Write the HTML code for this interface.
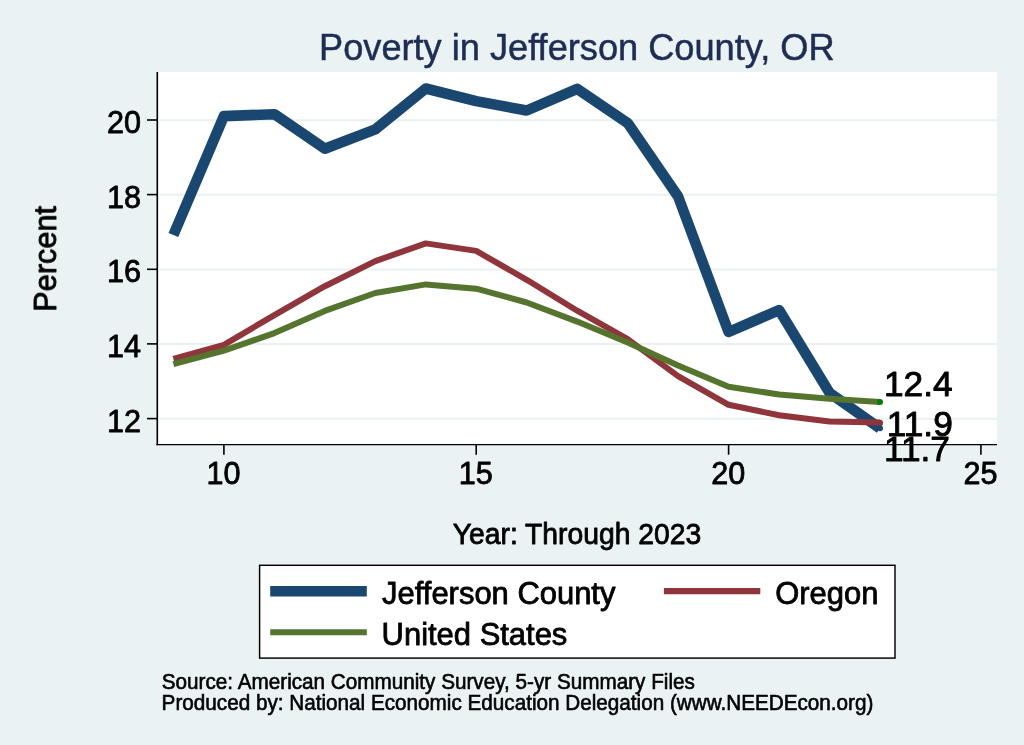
<!DOCTYPE html>
<html lang="en">
<head>
<meta charset="utf-8">
<title>Poverty in Jefferson County, OR</title>
<style>
html,body{margin:0;padding:0;background:#EAF2F3;}
body{width:1024px;height:745px;overflow:hidden;font-family:"Liberation Sans",sans-serif;}
svg{display:block;}
</style>
</head>
<body>
<svg width="1024" height="745" viewBox="0 0 1024 745" role="img" aria-label="Poverty in Jefferson County, OR" font-family="'Liberation Sans', sans-serif">
<rect x="0" y="0" width="1024" height="745" fill="#EAF2F3"/>
<rect x="158.3" y="72.0" width="838.7" height="372.4" fill="#ffffff"/>
<g stroke="#E9F1F2" stroke-width="2">
<line x1="159.5" x2="997.0" y1="120.2" y2="120.2"/>
<line x1="159.5" x2="997.0" y1="194.8" y2="194.8"/>
<line x1="159.5" x2="997.0" y1="269.5" y2="269.5"/>
<line x1="159.5" x2="997.0" y1="344.1" y2="344.1"/>
<line x1="159.5" x2="997.0" y1="418.8" y2="418.8"/>
</g>
<g fill="none" stroke-linejoin="round" stroke-linecap="butt">
<polyline points="173.4,235.0 223.9,116.1 274.4,114.2 324.8,148.7 375.3,129.4 425.8,88.5 476.2,101.1 526.7,110.5 577.2,88.8 627.7,123.1 678.1,196.5 728.6,332.0 779.1,310.1 829.5,392.8 880.0,428.3" stroke="#1A476F" stroke-width="10.6"/>
<polyline points="173.4,358.8 223.9,344.8 274.4,315.1 324.8,286.2 375.3,261.1 425.8,243.4 476.2,250.9 526.7,279.8 577.2,310.7 627.7,339.2 678.1,376.1 728.6,404.8 779.1,415.3 829.5,421.6 880.0,422.6" stroke="#90353B" stroke-width="6"/>
<polyline points="173.4,364.1 223.9,350.7 274.4,333.1 324.8,310.9 375.3,293.0 425.8,284.4 476.2,288.7 526.7,302.5 577.2,321.6 627.7,342.6 678.1,365.4 728.6,386.8 779.1,394.5 829.5,398.7 880.0,402.1" stroke="#55752F" stroke-width="6"/>
</g>
<circle cx="880.0" cy="428.3" r="3" fill="#1A476F"/>
<circle cx="880.0" cy="422.7" r="3" fill="#90353B"/>
<circle cx="880.0" cy="402.1" r="3" fill="#008000"/>
<g stroke="#000" stroke-width="1.6">
<line x1="157.3" x2="157.3" y1="72.0" y2="445.2"/>
<line x1="156.5" x2="997.0" y1="444.65" y2="444.65" stroke-width="1.35"/>
<line x1="147" x2="157.3" y1="120.0" y2="120.0"/>
<line x1="147" x2="157.3" y1="194.6" y2="194.6"/>
<line x1="147" x2="157.3" y1="269.3" y2="269.3"/>
<line x1="147" x2="157.3" y1="343.9" y2="343.9"/>
<line x1="147" x2="157.3" y1="418.6" y2="418.6"/>
<line x1="223.9" x2="223.9" y1="444.4" y2="454.7"/>
<line x1="476.2" x2="476.2" y1="444.4" y2="454.7"/>
<line x1="728.6" x2="728.6" y1="444.4" y2="454.7"/>
<line x1="980.9" x2="980.9" y1="444.4" y2="454.7"/>
</g>
<rect x="259.6" y="565.3" width="635.4" height="92.8" fill="#fff" stroke="#000" stroke-width="1.45"/>
<line x1="270.2" x2="366.8" y1="591.25" y2="591.25" stroke="#1A476F" stroke-width="10.5"/>
<line x1="270.2" x2="366.8" y1="632.2" y2="632.2" stroke="#55752F" stroke-width="6.1"/>
<line x1="663.9" x2="760.3" y1="591.1" y2="591.1" stroke="#90353B" stroke-width="6.1"/>
<g opacity="0.999" fill="#000" stroke="#000" stroke-width="0.8" stroke-linejoin="round">
<text transform="translate(141.00,133.10)" font-size="30.6" text-anchor="end">20</text>
<text transform="translate(141.00,207.74)" font-size="30.6" text-anchor="end">18</text>
<text transform="translate(141.00,282.38)" font-size="30.6" text-anchor="end">16</text>
<text transform="translate(141.00,357.02)" font-size="30.6" text-anchor="end">14</text>
<text transform="translate(141.00,431.66)" font-size="30.6" text-anchor="end">12</text>
<text transform="translate(223.50,484.30)" font-size="30.6" text-anchor="middle">10</text>
<text transform="translate(475.85,484.30)" font-size="30.6" text-anchor="middle">15</text>
<text transform="translate(728.20,484.30)" font-size="30.6" text-anchor="middle">20</text>
<text transform="translate(980.55,484.30)" font-size="30.6" text-anchor="middle">25</text>
<text transform="translate(883.90,396.30)" font-size="35.3" stroke-width="0.9">12.4</text>
<text transform="translate(886.70,436.20)" font-size="35.3" stroke-width="0.9">11.9</text>
<text transform="translate(883.90,461.20)" font-size="35.3" stroke-width="0.9">11.7</text>
<text transform="translate(576.80,60.00) scale(1,1.03)" font-size="36.2" text-anchor="middle" fill="#1E2D53" stroke="#1E2D53" stroke-width="0.5">Poverty in Jefferson County, OR</text>
<text transform="translate(577.00,543.90) scale(1,1.03)" font-size="28.3" text-anchor="middle">Year: Through 2023</text>
<text transform="translate(55.90,258.80) rotate(-90) scale(1,1.03)" font-size="30.7" text-anchor="middle">Percent</text>
<text transform="translate(382.10,603.90) scale(1,1.03)" font-size="30.95">Jefferson County</text>
<text transform="translate(381.60,644.90) scale(1,1.03)" font-size="30.95">United States</text>
<text transform="translate(775.20,603.90) scale(1,1.03)" font-size="30.95">Oregon</text>
<text transform="translate(161.80,689.00) scale(1,1.03)" font-size="20.7" stroke-width="0.6">Source: American Community Survey, 5-yr Summary Files</text>
<text transform="translate(161.60,710.30) scale(1,1.03)" font-size="20.7" stroke-width="0.6">Produced by: National Economic Education Delegation (www.NEEDEcon.org)</text>
</g>
</svg>
</body>
</html>
